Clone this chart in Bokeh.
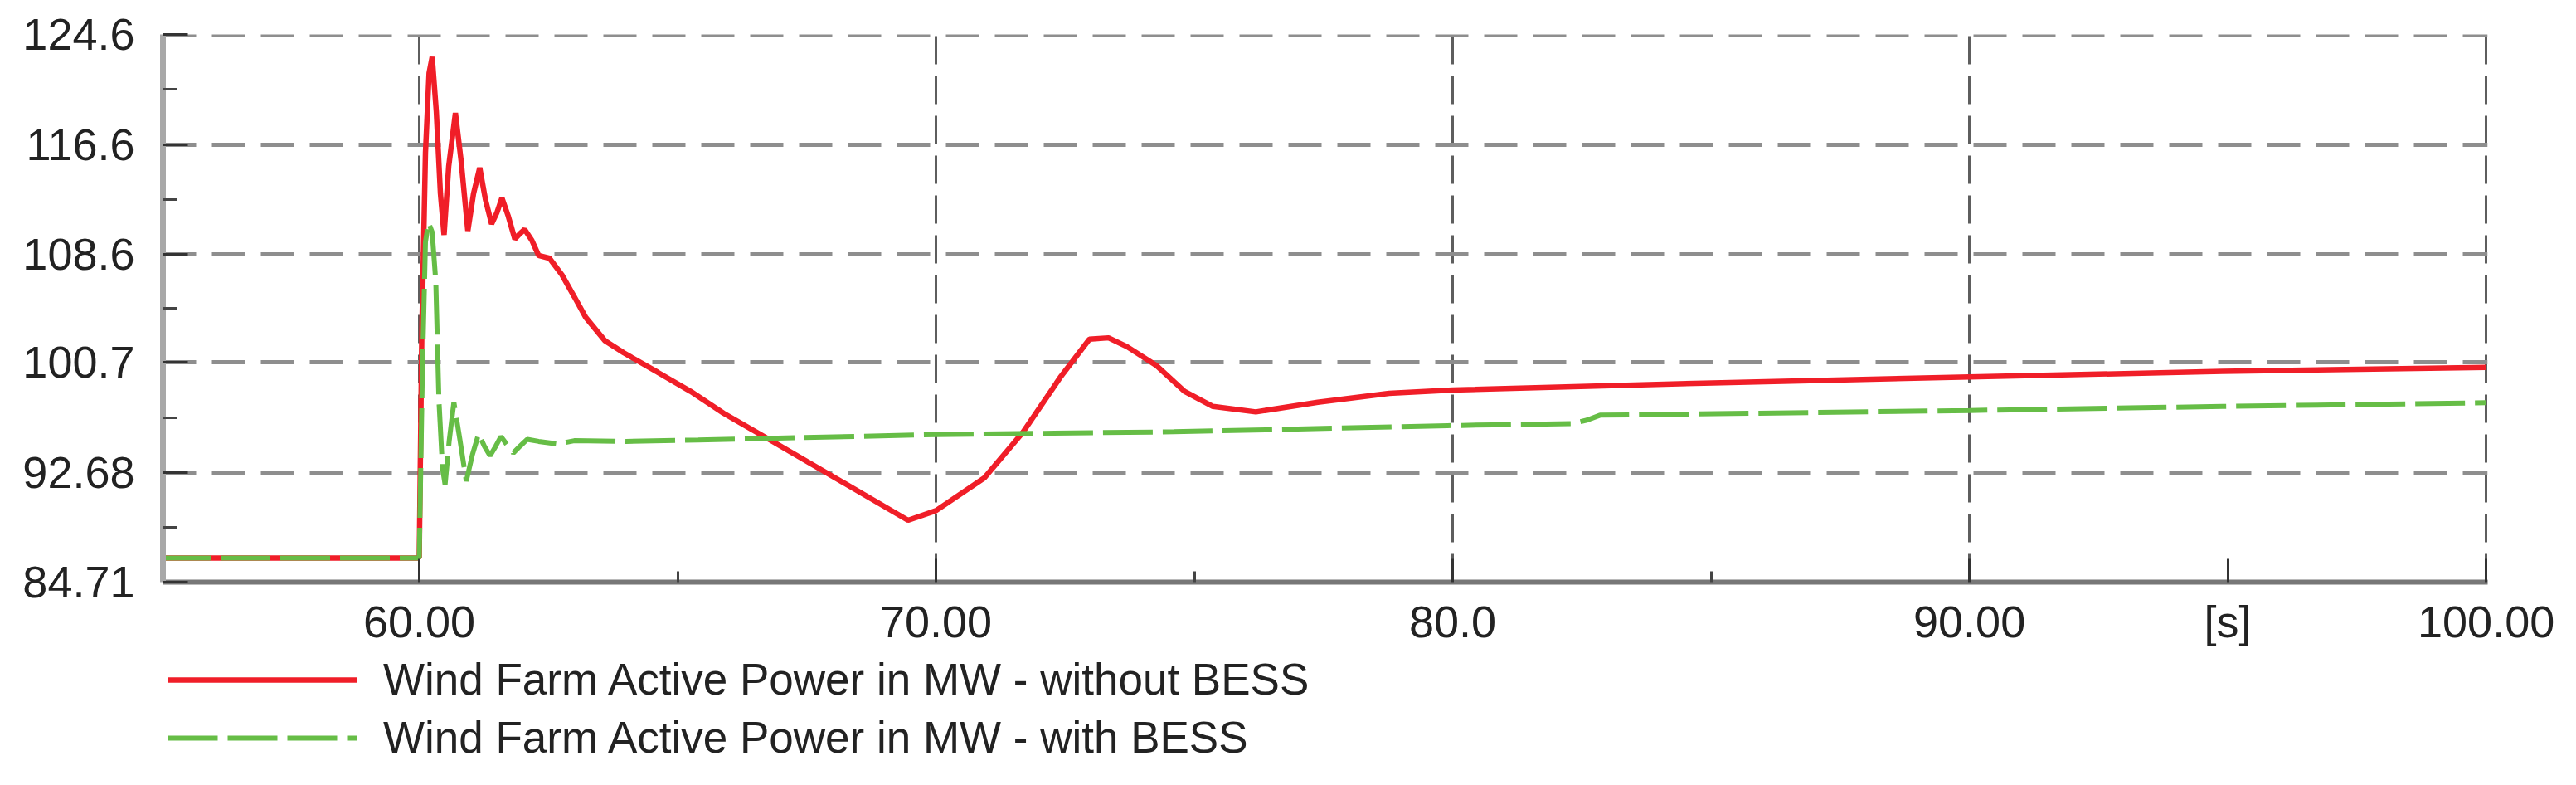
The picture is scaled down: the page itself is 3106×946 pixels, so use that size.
from bokeh.plotting import figure
from bokeh.layouts import column
from bokeh.models import FixedTicker, Legend, LegendItem, Range1d
from bokeh.embed import file_html
from bokeh.resources import INLINE

# time axis [s] and the two power traces [MW]
t_without = [55.0, 60.0, 60.05, 60.12, 60.19, 60.25, 60.33, 60.41, 60.48, 60.57, 60.7,
             60.81, 60.94, 61.05, 61.17, 61.28, 61.4, 61.5, 61.6, 61.72, 61.85,
             61.95, 62.04, 62.18, 62.31, 62.52, 62.76, 63.0, 63.22, 63.59, 63.96,
             64.61, 65.25, 65.89, 66.79, 69.46, 70.0, 70.94, 71.68, 72.42, 72.97,
             73.34, 73.7, 74.26, 74.81, 75.36, 76.19, 77.39, 78.77, 80.0, 84.86,
             90.0, 94.9, 100.0]
p_without = [86.45, 86.45, 103.0, 116.0, 121.8, 122.98, 119.0, 113.0, 110.0, 115.0, 118.9,
             115.4, 110.3, 113.0, 114.9, 112.6, 110.8, 111.6, 112.7, 111.4, 109.7,
             110.1, 110.4, 109.6, 108.5, 108.3, 107.1, 105.5, 104.0, 102.3, 101.4,
             100.0, 98.6, 97.0, 95.05, 89.2, 89.9, 92.3, 95.6, 99.7, 102.4,
             102.5, 101.85, 100.5, 98.6, 97.5, 97.1, 97.8, 98.45, 98.7, 99.2,
             99.65, 100.05, 100.35]

t_with = [55.0, 60.0, 60.06, 60.12, 60.18, 60.25, 60.32, 60.38, 60.45, 60.5, 60.58,
          60.67, 60.79, 60.91, 61.03, 61.15, 61.26, 61.37, 61.48, 61.58, 61.7,
          61.82, 61.95, 62.09, 62.31, 62.68, 63.0, 64.0, 65.4, 70.0, 74.6,
          77.0, 79.9, 82.3, 82.6, 82.85, 90.0, 94.9, 100.0]
p_with = [86.45, 86.45, 100.0, 109.5, 110.9, 110.2, 106.6, 98.0, 93.0, 91.8, 95.0,
          97.8, 95.0, 92.05, 94.0, 95.5, 94.6, 93.9, 94.6, 95.3, 94.7,
          94.1, 94.6, 95.1, 94.95, 94.76, 95.0, 94.95, 95.05, 95.45, 95.65,
          95.85, 96.1, 96.25, 96.5, 96.86, 97.2, 97.5, 97.77]

x_ticks = [60, 70, 80, 90, 95, 100]
x_tick_labels = ["60.00", "70.00", "80.0", "90.00", "[s]", "100.00"]
x_minor = [65, 75, 85]
x_grid = [60, 70, 80, 90, 100]
y_ticks = [84.71, 92.68, 100.7, 108.6, 116.6, 124.6]
y_tick_labels = ["84.71", "92.68", "100.7", "108.6", "116.6", "124.6"]
y_minor = [88.7, 96.69, 104.65, 112.6, 120.6]

series_names = ["Wind Farm Active Power in MW - without BESS",
                "Wind Farm Active Power in MW - with BESS"]

FONT = "Liberation Sans"
TXT = "#222222"
RED = "#f01e28"
GREEN = "#66bd46"

# ranges padded a hair so the grid lines on the frame edges still get drawn
p = figure(width=3090, height=782,
           x_range=Range1d(55.04, 100.03), y_range=Range1d(84.69, 124.62),
           output_backend="svg", toolbar_location=None,
           min_border_left=196, min_border_top=41, min_border_right=91,
           min_border_bottom=81)
p.outline_line_color = None

# axes
p.xaxis.ticker = FixedTicker(ticks=x_ticks, minor_ticks=x_minor)
p.xaxis.major_label_overrides = dict(zip(x_ticks, x_tick_labels))
p.yaxis.ticker = FixedTicker(ticks=y_ticks, minor_ticks=y_minor)
p.yaxis.major_label_overrides = dict(zip(y_ticks, y_tick_labels))

for ax in (p.xaxis, p.yaxis):
    ax.major_label_text_font = FONT
    ax.major_label_text_font_size = "54px"
    ax.major_label_text_color = TXT
    ax.major_tick_out = 0
    ax.minor_tick_out = 0
    ax.major_tick_line_color = "#333333"
    ax.minor_tick_line_color = "#444444"
    ax.major_tick_line_width = 3
    ax.minor_tick_line_width = 3

p.yaxis.axis_line_color = "#a8a8a8"
p.yaxis.axis_line_width = 7
p.yaxis.major_tick_in = 30
p.yaxis.minor_tick_in = 17
p.yaxis.major_label_standoff = 34

p.xaxis.axis_line_color = "#777777"
p.xaxis.axis_line_width = 6
p.xaxis.major_tick_in = 28
p.xaxis.minor_tick_in = 13
p.xaxis.major_label_standoff = 17

# grids (no vertical line at the "[s]" label)
p.xgrid.ticker = FixedTicker(ticks=x_grid)
p.ygrid.grid_line_color = "#8e8e8e"
p.ygrid.grid_line_width = 5
p.ygrid.grid_line_dash = "40 19"
p.xgrid.grid_line_color = "#5e5e5e"
p.xgrid.grid_line_width = 3
p.xgrid.grid_line_dash = "34 14"

# traces
p.line(t_without, p_without, line_color=RED, line_width=6.5)
p.line(t_with, p_with, line_color=GREEN, line_width=6, line_dash="60 12")

# legend strip underneath the chart; its copies of the traces fall outside
# the strip's 0..1 ranges, so only the legend shows
leg = figure(width=3090, height=148, output_backend="svg", toolbar_location=None,
             x_range=Range1d(0, 1), y_range=Range1d(0, 1),
             min_border_left=192, min_border_top=0, min_border_right=0,
             min_border_bottom=0)
leg.axis.visible = False
leg.grid.visible = False
leg.outline_line_color = None
k_red = leg.line(t_without, p_without, line_color=RED, line_width=6.5)
k_green = leg.line(t_with, p_with, line_color=GREEN, line_width=6, line_dash="60 12")

legend = Legend(items=[LegendItem(label=series_names[0], renderers=[k_red]),
                       LegendItem(label=series_names[1], renderers=[k_green])],
                location="top_left", orientation="vertical")
legend.label_text_font = FONT
legend.label_text_font_size = "53px"
legend.label_text_color = TXT
legend.glyph_width = 228
legend.glyph_height = 40
legend.label_height = 40
legend.label_standoff = 32
legend.spacing = 9
legend.padding = 6
legend.margin = 0
legend.border_line_alpha = 0
legend.background_fill_alpha = 0
leg.add_layout(legend)

open("out.html", "w").write(file_html(column(p, leg), INLINE))
